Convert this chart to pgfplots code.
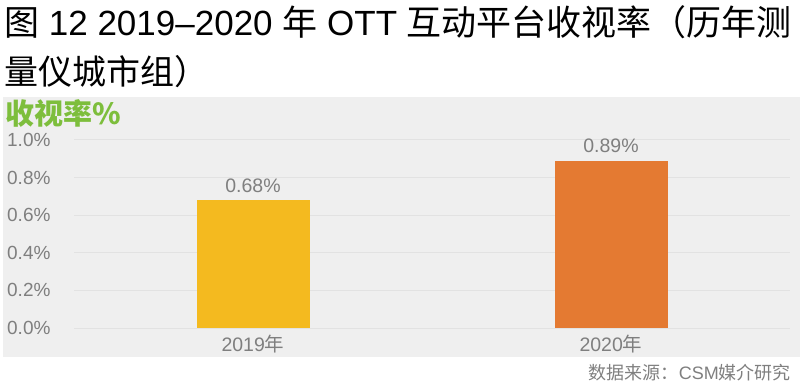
\documentclass[border=0pt]{standalone}
\usepackage{pgfplots}
\pgfplotsset{compat=1.18}
\usepackage{fontspec}
\setmainfont{Liberation Sans}
\newfontfamily\cjk{Noto Sans CJK SC}
\definecolor{panel}{HTML}{EFEFEF}
\definecolor{gridc}{HTML}{E2E2E2}
\definecolor{tickc}{HTML}{7F7F7F}
\definecolor{greenc}{HTML}{7DBE3C}
\definecolor{bar1}{HTML}{F4BA1F}
\definecolor{bar2}{HTML}{E47A32}
\begin{document}
\begin{tikzpicture}
\path[use as bounding box] (0bp,0bp) rectangle (800bp,388bp);
\fill[panel] (3bp,31bp) rectangle (800bp,291bp);
\node[anchor=west,inner sep=0pt,font=\fontsize{35bp}{37bp}\selectfont] at (4bp,366bp) {{\cjk 图} 12 2019–2020 {\cjk 年} OTT {\cjk 互动平台收视率（历年测}};
\node[anchor=west,inner sep=0pt,font=\fontsize{34bp}{36bp}\selectfont] at (4bp,316bp) {\cjk 量仪城市组）};
\node[anchor=west,inner sep=0pt,text=greenc,font=\fontsize{29bp}{31bp}\selectfont\bfseries] at (5bp,275bp) {\cjk 收视率\%};
\node[anchor=east,inner sep=0pt,text=tickc,font=\fontsize{18bp}{20bp}\selectfont] at (791bp,15bp) {{\cjk 数据来源：}CSM{\cjk 媒介研究}};
\begin{axis}[
  at={(74bp,60bp)}, anchor=south west,
  scale only axis, width=716bp, height=188bp,
  xmin=-0.5, xmax=1.5, ymin=0, ymax=1.0,
  axis line style={draw=none},
  tick style={draw=none},
  ymajorgrids, grid style={gridc, line width=1pt},
  ytick={0,0.2,0.4,0.6,0.8,1.0},
  yticklabel={\pgfmathprintnumber[fixed,precision=1,fixed zerofill]{\tick}\%},
  yticklabel style={anchor=east, xshift=-20bp, text=tickc, font=\fontsize{19bp}{21bp}\selectfont},
  xtick={0,1},
  xticklabels={{2019{\cjk 年}},{2020{\cjk 年}}},
  xticklabel style={text=tickc, font=\fontsize{19.5bp}{21bp}\selectfont, yshift=1bp},
  /pgf/number format/assume math mode=true,
  ybar, bar width=113bp,
  nodes near coords={\pgfmathprintnumber[fixed,precision=2,fixed zerofill]{\pgfplotspointmeta}\%},
  nodes near coords style={text=tickc, font=\fontsize{19.5bp}{21bp}\selectfont, yshift=4bp},
]
\addplot[fill=bar1, draw=none, bar shift=0pt] coordinates {(0,0.68)};
\addplot[fill=bar2, draw=none, bar shift=0pt] coordinates {(1,0.89)};
\end{axis}
\end{tikzpicture}
\end{document}
